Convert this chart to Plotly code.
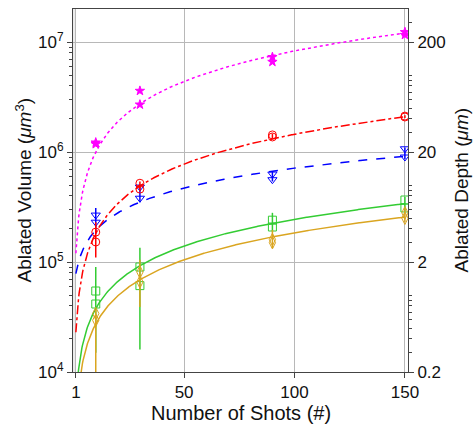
import numpy as np
import plotly.graph_objects as go

# ---------------- data ----------------
shots = [10, 30, 90, 150]

# magenta stars
mag_a = [1.22e6, 3.6e6, 7.3e6, 1.23e7]
mag_b = [1.18e6, 2.7e6, 6.6e6, 1.16e7]
# red circles
red_a = [1.87e5, 5.2e5, 1.43e6, 2.12e6]
red_b = [1.52e5, 4.6e5, 1.37e6, 2.08e6]
red_hi = [2.3e5, 5.4e5, 1.47e6, 2.16e6]
red_lo = [1.1e5, 4.4e5, 1.33e6, 2.04e6]
# blue triangles
blue_a = [2.67e5, 4.8e5, 6.3e5, 1.07e6]
blue_b = [2.3e5, 3.8e5, 5.6e5, 9.0e5]
blue_hi = [3.1e5, 5.0e5, 6.7e5, 1.1e6]
blue_lo = [1.8e5, 3.5e5, 5.4e5, 8.6e5]
# green squares
green_a = [5.45e4, 9.0e4, 2.4e5, 3.66e5]
green_b = [4.15e4, 6.1e4, 2.08e5, 3.1e5]
green_hi = [9.0e4, 1.35e5, 2.8e5, 3.9e5]
green_lo = [1.5e4, 1.6e4, 1.9e5, 2.9e5]
# orange diamonds
org_a = [3.4e4, 8.1e4, 1.6e5, 2.8e5]
org_b = [2.95e4, 6.6e4, 1.5e5, 2.5e5]
org_hi = [3.7e4, 1.05e5, 1.95e5, 3.1e5]
org_lo = [2.0e3, 3.9e4, 1.34e5, 2.3e5]

# fit parameters: V = a * N**b + c
fit_a = {"mag": 1.2e5, "red": 2.3e4, "blue": 3.35e4, "green": 6170, "org": 4683}
fit_b = {"mag": 0.92, "red": 0.90, "blue": 0.65, "green": 0.80, "org": 0.80}
fit_c = {"mag": 0.0, "red": 0.0, "blue": 4.5e4, "green": -1170, "org": -2176}

x_ticks = [1, 50, 100, 150]
left_ticks = [1e4, 1e5, 1e6, 1e7]
left_text = ["10<sup>4</sup>", "10<sup>5</sup>", "10<sup>6</sup>", "10<sup>7</sup>"]
right_ticks = [0.2, 2, 20, 200]
right_text = ["0.2", "2", "20", "200"]
depth_per_volume = 0.2 / 1e4

# ---------------- figure ----------------
FONT = "Liberation Sans"
fig = go.Figure()

fit_x = np.linspace(1, 150, 600)

series = [
    ("green", green_a, green_b, green_hi, green_lo, "#33cc33", "square-open", "solid", 8),
    ("org", org_a, org_b, org_hi, org_lo, "#daa520", "diamond-tall-open", "solid", 9),
    ("blue", blue_a, blue_b, blue_hi, blue_lo, "#0000ff", "triangle-down-open", "dash", 8),
    ("red", red_a, red_b, red_hi, red_lo, "#ff0000", "circle-open", "dashdot", 8),
    ("mag", mag_a, mag_b, None, None, "#ff00ff", "star", "dot", 7),
]

for key, ya, yb, hi, lo, col, sym, dash, msz in series:
    fy = fit_a[key] * fit_x ** fit_b[key] + fit_c[key]
    fig.add_trace(go.Scatter(x=fit_x, y=fy, mode="lines",
                             line=dict(color=col, width=1.5, dash=dash),
                             showlegend=False, hoverinfo="skip"))
    err = None
    if hi is not None:
        err = dict(type="data", symmetric=False,
                   array=[h - y for h, y in zip(hi, ya)],
                   arrayminus=[y - l for l, y in zip(lo, ya)],
                   color=col, thickness=1.5, width=0)
    fig.add_trace(go.Scatter(x=shots, y=ya, mode="markers",
                             marker=dict(symbol=sym, size=msz, color=col,
                                         line=dict(color=col, width=1)),
                             error_y=err, showlegend=False))
    fig.add_trace(go.Scatter(x=shots, y=yb, mode="markers",
                             marker=dict(symbol=sym, size=msz, color=col,
                                         line=dict(color=col, width=1)),
                             showlegend=False))

# invisible trace for right axis
fig.add_trace(go.Scatter(x=[shots[0]], y=[right_ticks[1]], yaxis="y2",
                         mode="markers", marker=dict(opacity=0),
                         showlegend=False, hoverinfo="skip"))

lmin, lmax = 4.0, 7.3
rmin = np.log10(left_ticks[0] * depth_per_volume)
rmax = rmin + (lmax - lmin)

left_minor = [k * 10 ** n for n in range(4, 8) for k in range(2, 10)]
right_minor = [k * 10.0 ** n for n in range(-1, 3) for k in range(1, 10) if k != 2]

axis_col = "#444444"
grid_col = "#b8b8b8"

fig.add_shape(type="rect", xref="x", yref="paper", x0=-0.3, x1=1, y0=0, y1=1,
              fillcolor="#ececec", line=dict(width=0), layer="below")

fig.update_layout(
    width=475, height=433,
    margin=dict(l=73, r=67, t=9, b=61, autoexpand=False),
    paper_bgcolor="white", plot_bgcolor="white",
    font=dict(family=FONT, size=17, color="#111111"),
    xaxis=dict(range=[-0.3, 151.4], tickvals=x_ticks, ticktext=[str(v) for v in x_ticks],
               showgrid=True, gridcolor=grid_col, gridwidth=1, automargin=False,
               showline=True, linecolor=axis_col, linewidth=1, mirror=True,
               ticks="outside", ticklen=5, tickcolor=axis_col, zeroline=False,
               tickfont=dict(size=17)),
    yaxis=dict(type="log", range=[lmin, lmax], tickvals=left_ticks, ticktext=left_text,
               showgrid=True, gridcolor=grid_col, gridwidth=1, automargin=False,
               showline=True, linecolor=axis_col, linewidth=1, mirror=True,
               ticks="outside", ticklen=5, tickcolor=axis_col,
               minor=dict(tickmode="array", tickvals=left_minor, ticks="outside",
                          ticklen=3, tickcolor=axis_col, showgrid=False),
               tickfont=dict(size=17)),
    yaxis2=dict(type="log", range=[rmin, rmax], overlaying="y", side="right", anchor="x",
                tickvals=right_ticks, ticktext=right_text, showgrid=False, automargin=False,
                showline=True, linecolor=axis_col, linewidth=1,
                ticks="outside", ticklen=5, tickcolor=axis_col,
                minor=dict(tickmode="array", tickvals=right_minor, ticks="outside",
                           ticklen=3, tickcolor=axis_col, showgrid=False),
                tickfont=dict(size=17)),
    annotations=[
        dict(text="Number of Shots (#)", xref="paper", yref="paper", x=0.5, y=0,
             yshift=-41, xanchor="center", yanchor="middle", showarrow=False,
             font=dict(size=20)),
        dict(text="Ablated Volume (<i>μm</i><sup>3</sup>)", xref="paper", yref="paper",
             x=0, y=0.5, xshift=-50, xanchor="center", yanchor="middle",
             textangle=-90, showarrow=False, font=dict(size=19)),
        dict(text="Ablated Depth (<i>μm</i>)", xref="paper", yref="paper",
             x=1, y=0.5, xshift=53, xanchor="center", yanchor="middle",
             textangle=-90, showarrow=False, font=dict(size=19)),
    ],
)

fig.write_html("out.html", config={"displayModeBar": False},
               post_script="document.body.style.margin='0';document.body.style.padding='0';")
